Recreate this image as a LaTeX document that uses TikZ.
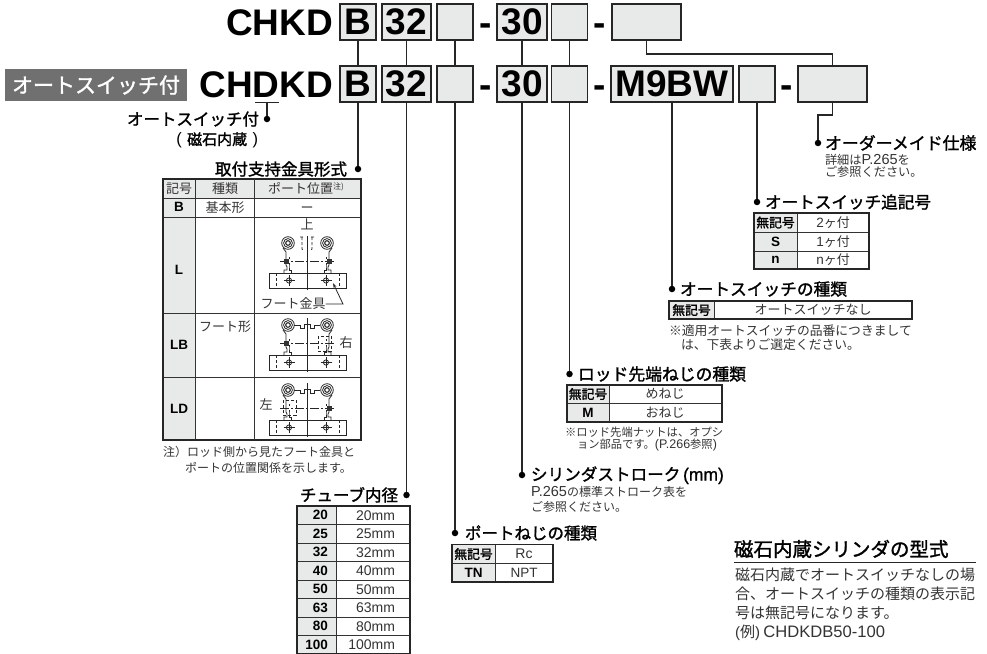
\documentclass[tikz,border=0pt]{standalone}
\usepackage{fontspec}
\setmainfont{Noto Sans CJK JP}
\newfontfamily\jm[FakeBold=1.5]{Noto Sans CJK JP}
\newfontfamily\lib{Liberation Sans}
\newfontfamily\libm[FakeBold=0.8]{Liberation Sans}
\usetikzlibrary{arrows.meta}
\newdimen\px \px=0.75pt
\definecolor{boxgray}{HTML}{E8E9E9}
\definecolor{badge}{HTML}{707070}
\definecolor{ink}{HTML}{333333}
\newcommand\szz[1]{\fontsize{\fpeval{#1*0.75}}{\fpeval{#1*0.9}}\selectfont}
\newcommand\jstr{\rule[-.12em]{0pt}{1em}}
\newcommand\tx[2]{{\color{ink}\szz{#1}\jstr #2}}
\newcommand\tb[2]{{\color{black}\jm\szz{#1}\jstr #2}}
\newcommand\lr[2]{{\lib\szz{#1}#2}}
\newcommand\lb[2]{{\lib\szz{#1}\bfseries #2}}
\newcommand\tabl[6]{%
  \fill[boxgray] (#1,#4) rectangle (#2,#5);
  \foreach \yy in {#6} {\draw[tline] (#1,\yy) -- (#3,\yy);}
  \draw[tline] (#2,#4) -- (#2,#5);
  \draw[touter] (#1,#4) rectangle (#3,#5);
}
\newcommand\footbase{%
  \foreach \sx/\sg in {-19/-1,20/1} {
    \draw[fl] (\sx,-18) circle[radius=6.3\px] circle[radius=4.4\px];
    \draw[fl,line width=1.1\px] (\sx,-18) circle[radius=2.3\px];
    \draw[fl] (\sx+\sg*5,-13) -- (\sx+\sg*2,-9) -- (\sx+\sg*2,-4) -- (\sx+\sg*2,4) -- (\sx+\sg*1,6) -- (\sx+\sg*1,9) -- (\sx+\sg*4,9) -- (\sx+\sg*4,12);
    \draw[fl] (\sx-\sg*1,-4) -- (\sx-\sg*1,-2) (\sx-\sg*1,2) -- (\sx-\sg*1,5) -- (\sx-\sg*1,9) -- (\sx-\sg*3,9) -- (\sx-\sg*3,12);
  }
  \draw[fl] (-38,12) rectangle (39,27);
  \draw[fl,dash pattern=on 2.25pt off 1.5pt] (-31,12) -- (-31,27) (32,12) -- (32,27);
  \foreach \hx in {-18,19} {
    \draw[fl] (\hx,19.5) circle[radius=2.6\px];
    \draw[fl] (\hx-5.5,19.5) -- (\hx+5.5,19.5) (\hx,14) -- (\hx,25);
  }
  \draw[fl] (0,-25) -- (0,29);
  \draw[fl,dash pattern=on 6.75pt off 1.5pt on 1.5pt off 1.5pt] (-27,0) -- (27,0);
}
\newcommand\portmark[1]{\fill[black!80] (#1-2.5,-2.5) rectangle (#1+2.5,2.5);}
\newcommand\bump{\draw[fl] (-13,-18) -- (-7,-18) -- (-7,-15) -- (-3,-15) -- (-3,-19) -- (3,-19) -- (3,-15) -- (7,-15) -- (7,-18) -- (13,-18);}
\tikzset{
  x=0.75pt,y=-0.75pt,
  every node/.style={inner sep=0pt,outer sep=0pt},
  bx/.style={draw=black!85,fill=boxgray,line width=1.5\px,minimum height=36\px,text depth=0pt,font=\lib\szz{37}\bfseries},
  conn/.style={line width=1.3\px,black!85},
  dotn/.style={circle,fill=black,minimum size=6.5\px},
  tline/.style={line width=.9\px,black!80},
  touter/.style={line width=1.1\px,black!85},
  fl/.style={line width=.8\px,black!85},
  big/.style={font=\lib\szz{37}\bfseries,anchor=base},
}
\begin{document}
\begin{tikzpicture}
\useasboundingbox (0,0) rectangle (987,653);
% ---------- code rows
\node[big,anchor=base east] (codeA) at (333,35) {CHKD};
\node[big,anchor=base east] (codeB) at (333,97) {CHDKD};
\node[fill=badge,minimum width=182\px,minimum height=32\px,text=white] (badgeN) at (96,85) {\jm\szz{21}\jstr オートスイッチ付};
\node[bx,minimum width=36\px] (a1) at (358,22) {B};
\node[bx,minimum width=49\px] (a2) at (406.5,22) {32};
\node[bx,minimum width=36\px] (a3) at (455,22) {};
\node[big] (h1) at (486,35) {-};
\node[bx,minimum width=50\px] (a4) at (522,22) {30};
\node[bx,minimum width=36\px] (a5) at (569.5,22) {};
\node[big] (h2) at (600,35) {-};
\node[bx,minimum width=69\px] (a6) at (646.5,22) {};
\node[bx,minimum width=36\px] (b1) at (358,84) {B};
\node[bx,minimum width=49\px] (b2) at (406.5,84) {32};
\node[bx,minimum width=36\px] (b3) at (455,84) {};
\node[big] (h3) at (486,97) {-};
\node[bx,minimum width=50\px] (b4) at (522,84) {30};
\node[bx,minimum width=36\px] (b5) at (569.5,84) {};
\node[big] (h4) at (600,97) {-};
\node[bx,minimum width=122\px] (b6) at (672,84) {M9BW};
\node[bx,minimum width=36\px] (b7) at (757,84) {};
\node[big] (h5) at (787,97) {-};
\node[bx,minimum width=69\px] (b8) at (832.5,84) {};
% ---------- connectors
\foreach \i in {1,...,5} {\draw[conn] (a\i) -- (b\i);}
\draw[conn] (a6.south) -- ++(0,14) -| (b8.north);
\node[dotn] (dD) at (267,119) {};
\node[dotn] (d1) at (358,169) {};
\node[dotn] (d2) at (406.5,495) {};
\node[dotn] (d3) at (455,533) {};
\node[dotn] (d4) at (522,475) {};
\node[dotn] (d5) at (569.5,374) {};
\node[dotn] (d6) at (672,289) {};
\node[dotn] (d7) at (757,202) {};
\node[dotn] (d8) at (818,143) {};
\draw[conn] (b1) -- (d1);
\draw[conn] (b2) -- (d2);
\draw[conn] (b3) -- (d3);
\draw[conn] (b4) -- (d4);
\draw[conn] (b5) -- (d5);
\draw[conn] (b6) -- (d6);
\draw[conn] (b7) -- (d7);
\draw[conn] (b8.south) -- ++(0,13) -| (d8);
\coordinate (ulA) at (255,102.5);
\coordinate (ulB) at (279,102.5);
\coordinate (ulM) at (267,102.5);
\draw[line width=1\px,black!85] (ulA) -- (ulB);
\draw[conn] (ulM) -- (dD);
\node[anchor=east] (swA) at (259,119) {\tb{16.5}{オートスイッチ付}};
\node[anchor=east] (swB) at (258,140) {\tb{15}{\lr{16.5}{(}\hspace{4pt}磁石内蔵\hspace{4pt}\lr{16.5}{)}}};
% ---------- mounting table
\node[anchor=east] (tMount) at (347,169) {\tb{16.5}{取付支持金具形式}};
\fill[boxgray] (163,179) rectangle (361,198);
\tabl{163}{195}{361}{179}{440}{198,217,313,377}
\draw[tline] (254,179) -- (254,440);
\node (m1) at (179,188.5) {\tx{13}{記号}};
\node (m2) at (225,188.5) {\tx{13}{種類}};
\node (m3) at (306,188.5) {\tx{13}{ポート位置\raisebox{.3em}{\szz{8}注)}}};
\node (m4) at (179,207) {\lb{13.5}{B}};
\node (m5) at (225,207.5) {\tx{13}{基本形}};
\node (m6) at (307,207.5) {\tx{13}{ー}};
\node (m7) at (179,270) {\lb{13.5}{L}};
\node (m8) at (179,345) {\lb{13.5}{LB}};
\node (m9) at (179,409) {\lb{13.5}{LD}};
\node (m10) at (225,327) {\tx{13}{フート形}};
\node (m11) at (307,225) {\tx{13}{上}};
\node (m12) at (293,304) {\tx{13}{フート金具}};
\node (m13) at (346,343) {\tx{13}{右}};
\node (m14) at (266,405) {\tx{13}{左}};
\begin{scope}[shift={(307,261)}]
  \footbase \portmark{-21}\portmark{22}
  \draw[fl,dash pattern=on 2.25pt off 1.5pt] (-5,-24) -- (-5,-12) -- (-3,-10) (5,-24) -- (5,-12) -- (3,-10) (-7,-24) -- (-2,-24) (7,-24) -- (2,-24);
\end{scope}
\begin{scope}[shift={(307,343)}]
  \footbase \bump \portmark{-21}
  \draw[fl,dash pattern=on 2.25pt off 1.5pt] (11,-7) rectangle (24,8);
\end{scope}
\begin{scope}[shift={(307,408)}]
  \footbase \bump \portmark{22}
  \draw[fl,dash pattern=on 2.25pt off 1.5pt] (-24,-8) rectangle (-11,7);
\end{scope}
\coordinate (ftEnd) at (343,304);
\coordinate (ftTip) at (333,283);
\draw[fl,-{Stealth[length=3.75pt,width=2.25pt]}] (m12.east) -- (ftEnd) -- (ftTip);
\node[anchor=west] (n1) at (163,452) {\tx{12}{注）ロッド側から見たフート金具と}};
\node[anchor=west] (n2) at (185,468) {\tx{12}{ポートの位置関係を示します。}};
% ---------- bore table
\node[anchor=east] (tBore) at (398,495) {\tb{16.5}{チューブ内径}};
\tabl{297}{336}{410}{506}{654}{524.5,543,561.5,580,598.5,617,635.5}
\foreach \k [count=\i] in {20,25,32,40,50,63,80,100} {
  \pgfmathsetmacro\yc{506+(\i-.5)*18.5}
  \node[anchor=east] (bk\i) at (328,\yc) {\lb{13.5}{\k}};
  \node[anchor=east] (bv\i) at (395,\yc) {\color{ink}\lr{14}{\k mm}};
}
% ---------- port thread
\node[anchor=west] (tPort) at (465,533) {\tb{16.5}{ポートねじの種類}};
\tabl{452}{495}{553}{544.5}{582}{563.5}
\node (p1) at (473.5,554) {\tb{12.8}{無記号}};
\node (p2) at (524,554) {\color{ink}\lr{14}{Rc}};
\node (p3) at (473.5,573) {\lb{13.5}{TN}};
\node (p4) at (524,573) {\color{ink}\lr{13.5}{NPT}};
% ---------- stroke
\node[anchor=west] (tStroke) at (531,475) {\tb{16.6}{シリンダストローク\hspace{2pt}{\libm\szz{17.5}(mm)}}};
\node[anchor=west] (s1) at (531,492) {\tx{12}{\lr{14.5}{P.265}の標準ストローク表を}};
\node[anchor=west] (s2) at (531,507) {\tx{12}{ご参照ください。}};
% ---------- rod thread
\node[anchor=west] (tRod) at (578,374) {\tb{16.8}{ロッド先端ねじの種類}};
\tabl{567}{609}{722}{385}{422}{403.5}
\node (r1) at (588,394) {\tb{12.8}{無記号}};
\node (r2) at (665,394) {\tx{13}{めねじ}};
\node (r3) at (588,413) {\lb{13.5}{M}};
\node (r4) at (665,413) {\tx{13}{おねじ}};
\node[anchor=west] (r5) at (565,432) {\tx{11.3}{※ロッド先端ナットは、オプシ}};
\node[anchor=west] (r6) at (577,445) {\tx{11.3}{ョン部品です。\lr{12.5}{(P.266}参照\lr{12.5}{)}}};
% ---------- switch type
\node[anchor=west] (tType) at (680,289) {\tb{16.7}{オートスイッチの種類}};
\tabl{669}{714}{912}{301}{319}{301}
\node (y1) at (691.5,310) {\tb{12.8}{無記号}};
\node (y2) at (813,310) {\tx{13}{オートスイッチなし}};
\node[anchor=west] (y3) at (669,331) {\tx{12.8}{※適用オートスイッチの品番につきまして}};
\node[anchor=west] (y4) at (681,345) {\tx{12.8}{は、下表よりご選定ください。}};
% ---------- switch suffix
\node[anchor=west] (tSuf) at (765,202) {\tb{16.6}{オートスイッチ追記号}};
\tabl{754}{797}{869}{213}{269}{232,251}
\node (u1) at (775.5,222.5) {\tb{12.8}{無記号}};
\node (u2) at (833,222.5) {\tx{13}{\lr{13.5}{2}ヶ付}};
\node (u3) at (775.5,241.5) {\lb{13.5}{S}};
\node (u4) at (833,241.5) {\tx{13}{\lr{13.5}{1}ヶ付}};
\node (u5) at (775.5,260) {\lb{13.5}{n}};
\node (u6) at (833,260) {\tx{13}{\lr{13.5}{n}ヶ付}};
% ---------- made to order
\node[anchor=west] (tOrd) at (825,143) {\tb{16.9}{オーダーメイド仕様}};
\node[anchor=west] (o1) at (825,160) {\tx{12.2}{詳細は\lr{14.5}{P.265}を}};
\node[anchor=west] (o2) at (825,172) {\tx{12.2}{ご参照ください。}};
% ---------- magnet note
\node[anchor=west] (tMag) at (734,549) {\tb{19.5}{磁石内蔵シリンダの型式}};
\coordinate (ruleA) at (734,562.5);
\coordinate (ruleB) at (976,562.5);
\draw[line width=1.3\px,black!85] (ruleA) -- (ruleB);
\node[anchor=west] (g1) at (735,575) {\tx{15}{磁石内蔵でオートスイッチなしの場}};
\node[anchor=west] (g2) at (735,594) {\tx{15}{合、オートスイッチの種類の表示記}};
\node[anchor=west] (g3) at (735,613) {\tx{15}{号は無記号になります。}};
\node[anchor=west] (g4) at (735,632) {\tx{15}{\lr{15}{(}例\lr{15}{)} \lr{16.6}{CHDKDB50-100}}};
\end{tikzpicture}
\end{document}
